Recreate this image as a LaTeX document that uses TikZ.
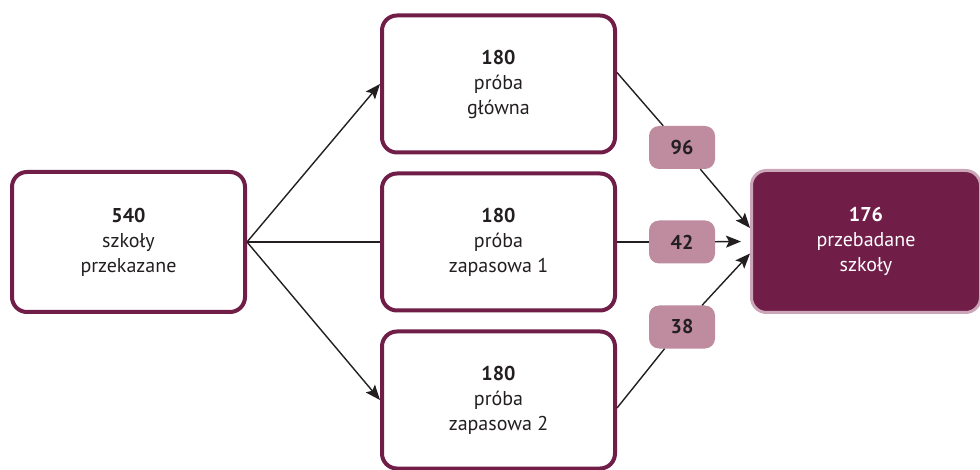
\documentclass[tikz,border=0pt]{standalone}
\usepackage{fontspec}
\setmainfont{PT Sans}
\usetikzlibrary{arrows.meta}

\definecolor{bordo}{HTML}{701E48}
\definecolor{roz}{HTML}{BE8C9E}
\definecolor{jasnyroz}{HTML}{CBA5B8}
\definecolor{tekst}{HTML}{231F20}

\begin{document}
\begin{tikzpicture}[x=1pt, y=-1pt,
    pudlo/.style={draw=bordo, line width=4pt, rounded corners=15pt, fill=white,
      minimum width=233pt, minimum height=137pt, align=center, text=tekst,
      font=\fontsize{20}{25}\selectfont},
    wynik/.style={pudlo, draw=jasnyroz, line width=3pt, fill=bordo, text=white,
      minimum width=229pt, minimum height=142pt},
    liczba/.style={fill=roz, rounded corners=10pt, minimum width=66pt, minimum height=43pt,
      text=tekst, font=\fontsize{20}{25}\selectfont\bfseries},
    linia/.style={draw=tekst, line width=1.4pt},
    strz/.style={linia, -{Stealth[length=15pt,width=12pt,inset=3pt]}}]
    \useasboundingbox (0,0) rectangle (980,470);
    % szkoly przekazane
    \node[pudlo, minimum height=140pt] (przek) at (128.5,242) {\textbf{540}\\szkoły\\przekazane};
    % trzy proby
    \node[pudlo] (glowna) at (498.5,84) {\textbf{180}\\próba\\główna};
    \node[pudlo] (zap1) at (498.5,242) {\textbf{180}\\próba\\zapasowa 1};
    \node[pudlo] (zap2) at (498.5,400) {\textbf{180}\\próba\\zapasowa 2};
    % wynik
    \node[wynik] (fin) at (866,241.5) {\textbf{176}\\przebadane\\szkoły};
    % liczby na strzalkach
    \node[liczba] (n96) at (682,147.5) {96};
    \node[liczba] (n42) at (682,242) {42};
    \node[liczba] (n38) at (682,327) {38};
    % z lewej
    \draw[strz] (przek.east) -- (glowna.west);
    \draw[linia] (przek.east) -- (zap1.west);
    \draw[strz] (przek.east) -- (zap2.west);
    % do wyniku
    \draw[linia] ([yshift=11.5pt]glowna.east) -- (n96);
    \draw[strz] (n96) -- ([yshift=13.5pt]fin.west);
    \draw[linia] (zap1.east) -- (n42);
    \draw[strz] (n42) -- ([xshift=-9pt]fin.west);
    \draw[linia] ([yshift=-8pt]zap2.east) -- (n38);
    \draw[strz] (n38) -- ([yshift=-12pt]fin.west);
\end{tikzpicture}
\end{document}
